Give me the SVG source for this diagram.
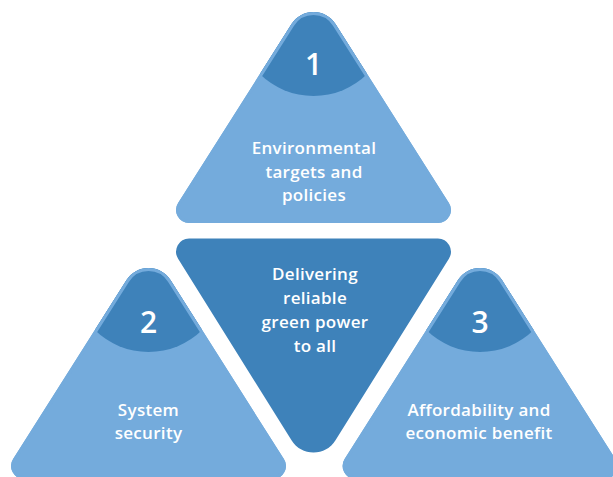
<svg xmlns="http://www.w3.org/2000/svg" xmlns:xlink="http://www.w3.org/1999/xlink" width="613" height="477" viewBox="0 0 613 477">
<style>
.light{fill:#74abdc}
.dark{fill:#3e82ba}
.rim{fill:none;stroke:#74abdc;stroke-width:6}
.lbl{font-family:"Open Sans","Liberation Sans",sans-serif;font-size:17px;font-weight:600;letter-spacing:0.3px;fill:#ffffff;text-anchor:middle}
.num{font-family:"Open Sans","Liberation Sans",sans-serif;font-size:30px;font-weight:600;fill:#ffffff;text-anchor:middle}
</style>
<defs>
<path id="tri" d="M291.5,24.1 A26,26 0 0 1 335.5,24.1 L448.9,203.1 A13,13 0 0 1 437.9,223 L189.1,223 A13,13 0 0 1 178.1,203.1 Z"/>
<clipPath id="triClip"><use href="#tri" xlink:href="#tri"/></clipPath>
</defs>
<rect width="613" height="477" fill="#ffffff"/>
<g id="connectors"></g>
<g id="node1">
<g>
<use href="#tri" xlink:href="#tri" class="light"/>
<circle cx="313.5" cy="19.4" r="76.6" class="dark" clip-path="url(#triClip)"/>
<use href="#tri" xlink:href="#tri" class="rim" clip-path="url(#triClip)"/>
</g>
<text class="num" x="313.5" y="75">1</text>
<text class="lbl" x="314" y="154">Environmental</text>
<text class="lbl" x="314" y="177.5">targets and</text>
<text class="lbl" x="314" y="201">policies</text>
</g>
<g id="node2">
<g transform="translate(-165,256)">
<use href="#tri" xlink:href="#tri" class="light"/>
<circle cx="313.5" cy="19.4" r="76.6" class="dark" clip-path="url(#triClip)"/>
<use href="#tri" xlink:href="#tri" class="rim" clip-path="url(#triClip)"/>
</g>
<text class="num" x="148.5" y="333">2</text>
<text class="lbl" x="148.5" y="416">System</text>
<text class="lbl" x="148.5" y="439">security</text>
</g>
<g id="node3">
<g transform="translate(166.5,256)">
<use href="#tri" xlink:href="#tri" class="light"/>
<circle cx="313.5" cy="19.4" r="76.6" class="dark" clip-path="url(#triClip)"/>
<use href="#tri" xlink:href="#tri" class="rim" clip-path="url(#triClip)"/>
</g>
<text class="num" x="480" y="333">3</text>
<text class="lbl" x="479" y="416">Affordability and</text>
<text class="lbl" x="479" y="439">economic benefit</text>
</g>
<g id="center">
<use href="#tri" xlink:href="#tri" class="dark" transform="translate(0,464.7) scale(1,-1.0143)"/>
<text class="lbl" x="315" y="280">Delivering</text>
<text class="lbl" x="315" y="304">reliable</text>
<text class="lbl" x="315" y="328">green power</text>
<text class="lbl" x="315" y="352">to all</text>
</g>
</svg>
